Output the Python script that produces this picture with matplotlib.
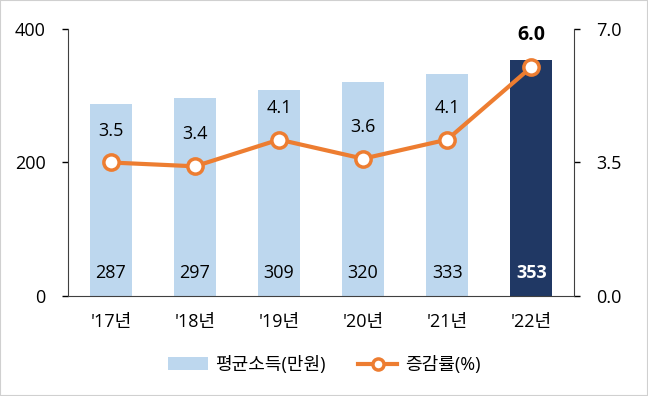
import matplotlib
matplotlib.use("Agg")
import matplotlib.pyplot as plt
from matplotlib.lines import Line2D
from matplotlib.patches import Patch, Rectangle

plt.rcParams['font.family'] = ['Open Sans', 'Noto Sans CJK KR', 'DejaVu Sans']

categories = ["'17년", "'18년", "'19년", "'20년", "'21년", "'22년"]
income = [287, 297, 309, 320, 333, 353]
growth = [3.5, 3.4, 4.1, 3.6, 4.1, 6.0]
left_ticks = [0, 200, 400]
right_ticks = [0.0, 3.5, 7.0]

light = '#BDD7EE'
dark = '#203864'
orange = '#ED7D31'

fig = plt.figure(figsize=(6.48, 3.96), dpi=100)
ax = fig.add_axes([0.105, 0.2525, 0.781, 0.6743])
ax2 = ax.twinx()

x = list(range(len(categories)))
colors = [light] * (len(categories) - 1) + [dark]
ax.bar(x, income, width=0.5, color=colors, zorder=1)
ax.set_ylim(0, 400)
ax.set_xlim(-0.51, 5.51)
ax.set_yticks(left_ticks)
ax.set_yticklabels([str(t) for t in left_ticks], fontsize=13)
ax.set_xticks(x)
ax.set_xticklabels(categories, fontsize=13)
ax.tick_params(axis='x', length=0, pad=12)
ax.tick_params(axis='y', direction='out', length=4, width=1, pad=12, colors='black')
for s in ['top', 'right']:
    ax.spines[s].set_visible(False)
ax.spines['left'].set_color('#404040')
ax.spines['bottom'].set_color('#404040')

for i, v in enumerate(income):
    last = i == len(income) - 1
    ax.text(i, 34, str(v), ha='center', va='center', fontsize=13,
            color='white' if last else 'black', fontweight='bold' if last else 'normal')

ax2.plot(x, growth, color=orange, lw=3, marker='o', ms=11, mfc='white',
         mec=orange, mew=2.5, zorder=3)
ax2.set_ylim(0, 7)
ax2.set_yticks(right_ticks)
ax2.set_yticklabels([f"{t:.1f}" for t in right_ticks], fontsize=13)
ax2.tick_params(axis='y', direction='out', length=4, width=1, pad=12)
for s in ['top', 'left', 'bottom']:
    ax2.spines[s].set_visible(False)
ax2.spines['right'].set_color('#404040')

for i, v in enumerate(growth):
    last = i == len(growth) - 1
    ax2.annotate(f"{v:.1f}", (i, v), xytext=(0, 23),
                 textcoords='offset points', ha='center', va='center',
                 fontsize=13 if not last else 14, fontweight='bold' if last else 'normal')

handles = [Patch(facecolor=light, edgecolor='none'),
           Line2D([0], [0], color=orange, lw=3, marker='o', ms=8, mfc='white', mec=orange, mew=2.5)]
fig.legend(handles, ['평균소득(만원)', '증감률(%)'], loc='center', bbox_to_anchor=(0.5, 0.078),
           ncol=2, frameon=False, fontsize=13, handlelength=2.2, columnspacing=1.8,
           handletextpad=0.4)

fig.patches.append(Rectangle((0, 0), 1, 1, transform=fig.transFigure, fill=False,
                             edgecolor='#D0D0D0', lw=1.5))

fig.savefig('out.png', dpi=100)
